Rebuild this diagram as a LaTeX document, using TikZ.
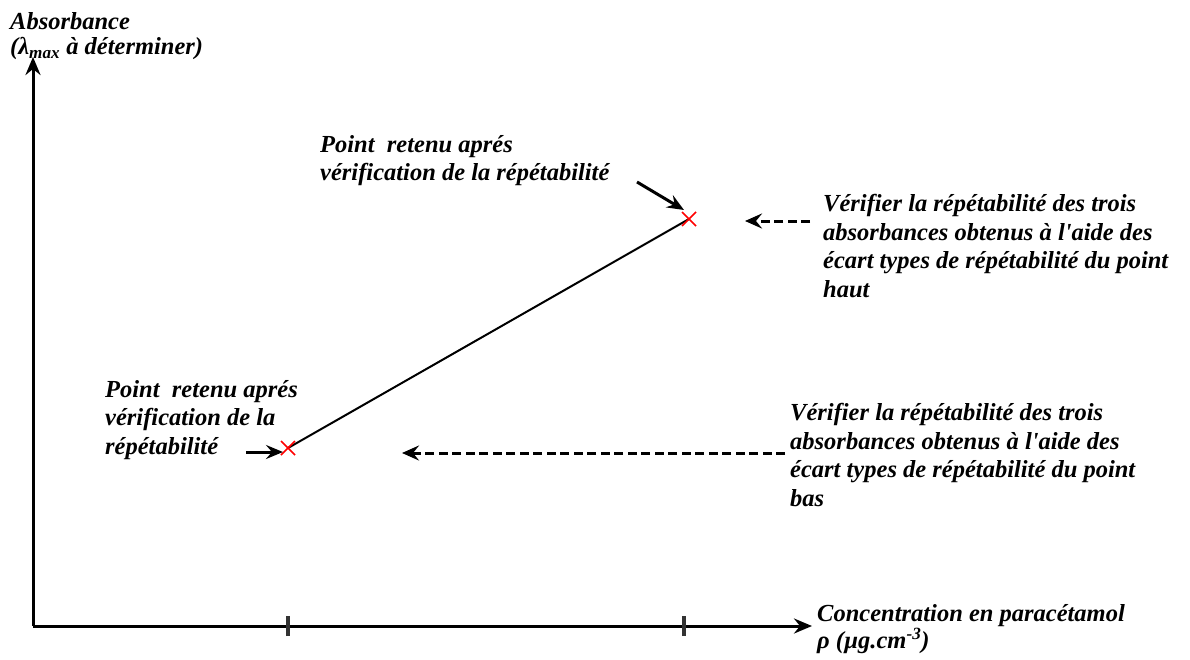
\documentclass[tikz,border=0pt]{standalone}
\usepackage{fontspec}
\setmainfont{Liberation Serif}
\usetikzlibrary{arrows.meta}
\begin{document}
\begin{tikzpicture}[x=1pt,y=-1pt,
  lbl/.style={font=\fontsize{24.5}{28.7}\selectfont\bfseries\itshape, align=left, inner sep=0pt, anchor=north west},
  axisline/.style={line width=3pt, -{Stealth[length=18pt,width=15pt,inset=6pt]}},
  ptr/.style={line width=3pt, -{Stealth[length=17pt,width=14pt,inset=6pt]}},
  dptr/.style={line width=3pt, dash pattern=on 9pt off 4.5pt, -{Stealth[length=17pt,width=15pt,inset=6pt]}},
  crossmark/.style={red, line width=1.5pt},
  tickmark/.style={line width=3.2pt, black!80}]
\useasboundingbox (0,0) rectangle (1190,659);
% axes
\coordinate (O) at (33,626);
\coordinate (ytip) at (33,57);
\coordinate (xtip) at (812,626);
\draw[axisline] (O) -- (ytip);
\draw[axisline] (O) -- (xtip);
% ticks
\coordinate (t1) at (288,626);
\coordinate (t2) at (684,626);
\draw[tickmark] ([yshift=-10pt]t1) -- ([yshift=10pt]t1);
\draw[tickmark] ([yshift=-10pt]t2) -- ([yshift=10pt]t2);
% points
\coordinate (lo) at (288,448);
\coordinate (hi) at (689,219);
\draw[line width=2pt] (lo) -- (hi);
\draw[crossmark] ([shift={(-7,-7)}]lo) -- ([shift={(7,7)}]lo) ([shift={(-7,7)}]lo) -- ([shift={(7,-7)}]lo);
\draw[crossmark] ([shift={(-7,-7)}]hi) -- ([shift={(7,7)}]hi) ([shift={(-7,7)}]hi) -- ([shift={(7,-7)}]hi);
% labels
\node[lbl, font=\fontsize{24.5}{25.5}\selectfont\bfseries\itshape] (ylab) at (10,12) {Absorbance\\(λ\textsubscript{max} à déterminer)};
\node[lbl, font=\fontsize{24.5}{27}\selectfont\bfseries\itshape] (xlab) at (817,604) {Concentration en paracétamol\\ρ (µg.cm\textsuperscript{-3})};
\node[lbl] (top) at (320,135) {Point\ \ retenu aprés\\vérification de la répétabilité};
\node[lbl] (left) at (105,380) {Point\ \ retenu aprés\\vérification de la\\répétabilité};
\node[lbl] (r1) at (823,194) {Vérifier la répétabilité des trois\\absorbances obtenus à l\textquotesingle aide des\\écart types de répétabilité du point\\haut};
\node[lbl] (r2) at (790,403) {Vérifier la répétabilité des trois\\absorbances obtenus à l\textquotesingle aide des\\écart types de répétabilité du point\\bas};
% pointers
\coordinate (a1s) at (637,182);
\coordinate (a1e) at (684,210);
\draw[ptr] (a1s) -- (a1e);
\coordinate (a2s) at (246,452);
\coordinate (a2e) at (283,452);
\draw[ptr] (a2s) -- (a2e);
\coordinate (d1s) at (810,221);
\coordinate (d1e) at (745,221);
\draw[dptr] (d1s) -- (d1e);
\coordinate (d2s) at (785,453);
\coordinate (d2e) at (402,453);
\draw[dptr] (d2s) -- (d2e);
\end{tikzpicture}
\end{document}
